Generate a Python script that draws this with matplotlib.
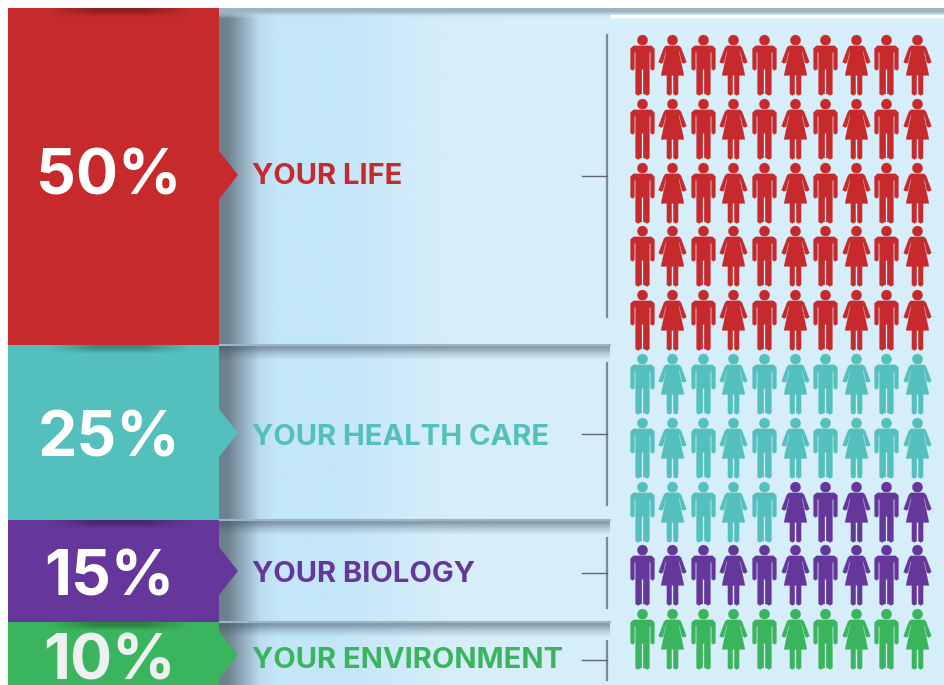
import numpy as np
import matplotlib
matplotlib.use("Agg")
import matplotlib.pyplot as plt
from matplotlib.path import Path

# values
labels = ["YOUR LIFE", "YOUR HEALTH CARE", "YOUR BIOLOGY", "YOUR ENVIRONMENT"]
percents = [50, 25, 15, 10]
colors = ["#C62A2C", "#53C0BE", "#66379A", "#3BB55D"]
band_top = [8, 345, 520, 622]
band_height = [337, 175, 102, 63]
pointer_y = [175, 433, 571, 655]
percent_base = [194, 456, 595, 679]
label_base = [184, 445, 582, 668]
bracket_top = [35, 363, 538, 641]
bracket_bottom = [317, 505, 608, 680]
tick_y = [176, 434, 573, 660]
shadow_y = [345, 520, 622]

people_per_row = 10
row_pitch = 63.8
col_pitch = 30.6


def polygon(pts):
    return Path(pts + [pts[0]], closed=True)


def personPaths():
    # local coordinates in pixels, y up, centre of the figure at 0
    head = Path.circle((0, 25.3), 5.2)
    man_parts = [head,
                 polygon([(-9, 19.7), (9, 19.7), (12, 17), (12, -3.5), (10, -5), (8, -3.5), (8, 13),
                          (7, 13), (7, -28.5), (4.5, -30), (1.9, -28.5), (0.7, -28.5), (0.7, -4),
                          (-0.7, -4), (-0.7, -28.5), (-1.9, -28.5), (-4.5, -30), (-7, -28.5), (-7, 13),
                          (-8, 13), (-8, -3.5), (-10, -5), (-12, -3.5), (-12, 17)])]
    woman_parts = [head,
                   polygon([(-6.5, 19.7), (6.5, 19.7), (8.5, 18), (13.9, 3.5), (11.5, 2), (9.4, 3),
                            (6.9, 14), (6.3, 14), (11.5, -10), (5.6, -10), (5.6, -28.5), (3.2, -30),
                            (0.8, -28.5), (0.8, -10), (-0.8, -10), (-0.8, -28.5), (-3.2, -30), (-5.6, -28.5),
                            (-5.6, -10), (-11.5, -10), (-6.3, 14), (-6.9, 14), (-9.4, 3), (-11.5, 2),
                            (-13.9, 3.5), (-8.5, 18)])]
    return Path.make_compound_path(*man_parts), Path.make_compound_path(*woman_parts)


def rgba(hex_list, alphas):
    return np.array([list(matplotlib.colors.to_rgb(h)) + [a] for h, a in zip(hex_list, alphas)])


fig = plt.figure(figsize=(9.44, 6.85), dpi=100)
ax = fig.add_axes([0, 0, 1, 1])
ax.axis("off")

# panel background
ax.add_patch(plt.Rectangle((8, 8), 936, 677, color="#D6EEF9", zorder=0))
ax.imshow(rgba(["#C4E6F9", "#D6EEF9"], [1, 1])[None, :, :], extent=[285, 500, 685, 8], aspect="auto",
          interpolation="bilinear", zorder=0.5)
ax.imshow(rgba(["#6E7F8D", "#93AEC0", "#BCDCEF", "#C4E6F9"], [1, 1, 1, 1])[None, :, :],
          extent=[219, 285, 685, 8], aspect="auto", interpolation="bilinear", zorder=0.6)
ax.imshow(rgba(["#9DB4C2", "#D6EEF9"], [1, 0])[:, None, :], extent=[219, 944, 22, 8], aspect="auto",
          interpolation="bilinear", zorder=0.7)
for y in shadow_y:
    ax.imshow(rgba(["#3C5060", "#3C5060", "#3C5060"], [0.5, 0.2, 0])[:, None, :],
              extent=[219, 610, y + 18, y], aspect="auto", interpolation="bilinear", zorder=0.8)
    ax.plot([219, 610], [y, y], color="#9DB5C5", lw=1.5, zorder=0.9)
ax.plot([610, 944], [16, 16], color="white", lw=2.5, solid_capstyle="butt", zorder=1)

# coloured bands
ax.barh(band_top, [211] * 4, height=band_height, left=8, align="edge", color=colors, zorder=2)
for i, c in enumerate(colors):
    ax.fill([219, 238, 219], [pointer_y[i] - 24, pointer_y[i], pointer_y[i] + 24], color=c, lw=0, zorder=2)
top_shadow = np.zeros((2, 4, 4))
top_shadow[0, :, 3] = [0, 0.28, 0.28, 0]
for y in [8] + shadow_y:
    ax.imshow(top_shadow, extent=[25, 215, y + 12, y], aspect="auto", interpolation="bilinear", zorder=2.2)

for i in range(4):
    ax.text(109, percent_base[i], f"{percents[i]}%", color="white" if i < 3 else "#EEF0F2", fontsize=45,
            family="Inter", weight="bold", ha="center", va="baseline", zorder=3)
    ax.text(252, label_base[i], labels[i], color=colors[i], fontsize=21, family="Inter", weight="bold",
            ha="left", va="baseline", zorder=3)

# brackets
for i in range(4):
    ax.plot([607, 607], [bracket_top[i], bracket_bottom[i]], color="#7F8A92", lw=1.6, zorder=1.5)
    ax.plot([582, 607], [tick_y[i], tick_y[i]], color="#60686E", lw=1.0, zorder=1.5)

# people, one per percent
man, woman = personPaths()
person_colors = [colors[i] for i in range(4) for _ in range(percents[i])]
for n, c in enumerate(person_colors):
    row, col = divmod(n, people_per_row)
    ax.scatter(641.5 + col * col_pitch, 65 + row * row_pitch, marker=man if col % 2 == 0 else woman,
               s=(61 * 0.72) ** 2, color=c, linewidths=0.15, zorder=4)

ax.set_xlim(0, 944)
ax.set_ylim(685, 0)
fig.savefig("out.png", dpi=100)
